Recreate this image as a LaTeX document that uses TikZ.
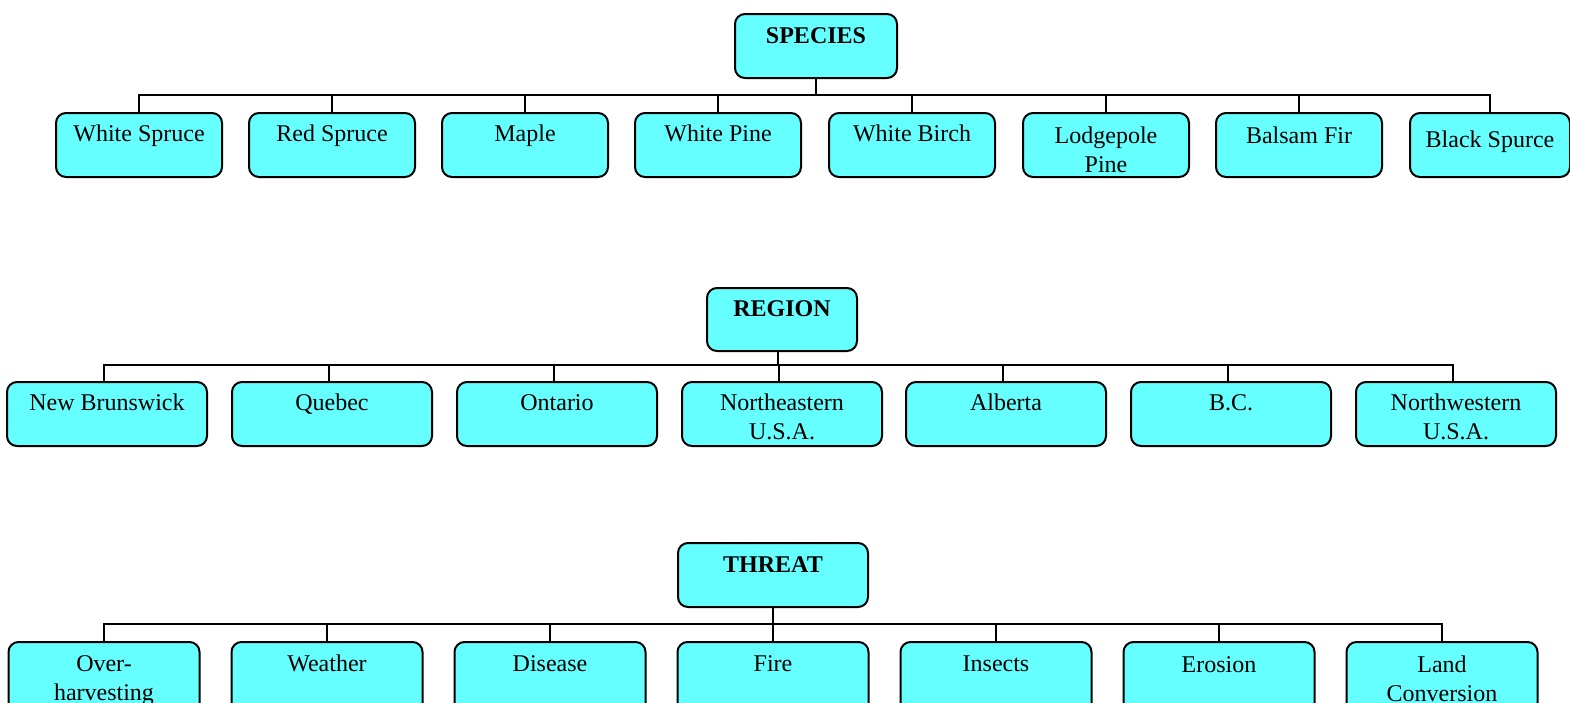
\documentclass[tikz,border=0pt]{standalone}
\usepackage{fontspec}
\setmainfont{Liberation Serif}
\definecolor{boxcyan}{HTML}{66FFFF}
\tikzset{
  box/.style={draw=black, fill=boxcyan, rounded corners=5pt, line width=1pt, inner sep=0pt, shape=rectangle},
  lbl/.style={anchor=base, inner sep=0pt, font=\fontsize{12}{14}\selectfont},
  conn/.style={line width=1pt},
}
\newcommand\tbox[8]{%
  \node[box, minimum width={#4*0.5pt}, minimum height={#5*0.5pt}, anchor=north,
    path picture={
      \node[lbl] at ([yshift={-#6*0.5pt}]path picture bounding box.north) {#7};
      \node[lbl] at ([yshift={-(#6+29)*0.5pt}]path picture bounding box.north) {#8};
    }] (#1) at (#2,#3) {};}
\begin{document}
\begin{tikzpicture}[x=0.5pt,y=-0.5pt]
\useasboundingbox (0,0) rectangle (1570,702);
% SPECIES
\tbox{species}{816}{13}{162}{64}{29}{\textbf{SPECIES}}{}
\tbox{ws}{139}{112}{166}{64}{28}{White Spruce}{}
\tbox{rs}{332}{112}{166}{64}{28}{Red Spruce}{}
\tbox{mp}{525}{112}{166}{64}{28}{Maple}{}
\tbox{wp}{718}{112}{166}{64}{28}{White Pine}{}
\tbox{wb}{912}{112}{166}{64}{28}{White Birch}{}
\tbox{lp}{1106}{112}{166}{64}{30}{Lodgepole}{Pine}
\tbox{bf}{1299}{112}{166}{64}{30}{Balsam Fir}{}
\tbox{bs}{1490}{112}{160}{64}{34}{Black Spurce}{}
\coordinate (sbar) at (816,95);
\draw[conn] (species.south) -- (sbar);
\foreach \c in {ws,rs,mp,wp,wb,lp,bf,bs} \draw[conn] (\c.north) |- (sbar);
% REGION
\tbox{region}{782}{287}{150}{63}{28}{\textbf{REGION}}{}
\tbox{nb}{107}{381}{200}{64}{28}{New Brunswick}{}
\tbox{qc}{332}{381}{200}{64}{28}{Quebec}{}
\tbox{on}{557}{381}{200}{64}{28}{Ontario}{}
\tbox{ne}{782}{381}{200}{64}{28}{Northeastern}{U.S.A.}
\tbox{ab}{1006}{381}{200}{64}{28}{Alberta}{}
\tbox{bc}{1231}{381}{200}{64}{28}{B.C.}{}
\tbox{nw}{1456}{381}{200}{64}{28}{Northwestern}{U.S.A.}
\coordinate (rbar) at (778,365);
\draw[conn] (rbar |- region.south) -- (rbar);
\foreach \c in {nb,qc,on,ne,ab,bc,nw} \draw[conn] ([xshift=-1.5pt]\c.north) |- (rbar);
% THREAT
\tbox{threat}{773}{542}{190}{64}{29}{\textbf{THREAT}}{}
\tbox{oh}{104}{641}{191}{72}{29}{Over-}{harvesting}
\tbox{we}{327}{641}{191}{72}{29}{Weather}{}
\tbox{di}{550}{641}{191}{72}{29}{Disease}{}
\tbox{fi}{773}{641}{191}{72}{29}{Fire}{}
\tbox{in}{996}{641}{191}{72}{29}{Insects}{}
\tbox{er}{1219}{641}{191}{72}{30}{Erosion}{}
\tbox{lc}{1442}{641}{191}{72}{30}{Land}{Conversion}
\coordinate (tbar) at (773,624);
\draw[conn] (threat.south) -- (tbar);
\foreach \c in {oh,we,di,fi,in,er,lc} \draw[conn] (\c.north) |- (tbar);
\end{tikzpicture}
\end{document}
